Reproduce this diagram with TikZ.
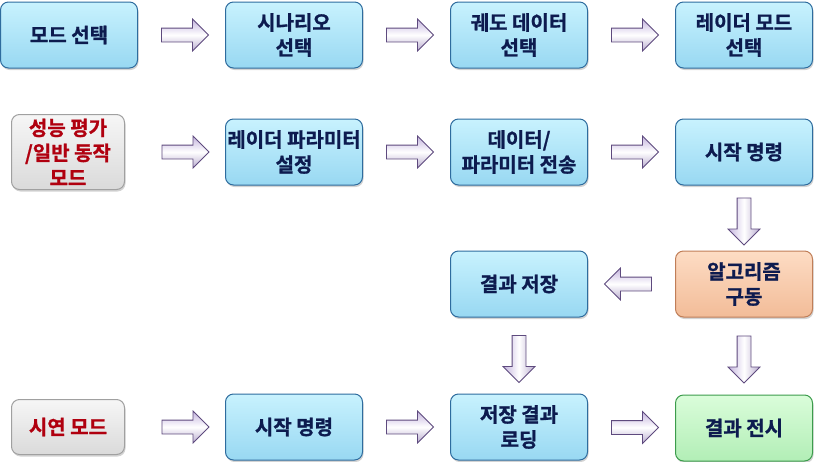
\documentclass[tikz,border=0pt]{standalone}
\usepackage{fontspec}
\newfontfamily\krfont{Noto Sans CJK KR Bold}[FakeBold=1]
\usetikzlibrary{positioning, shapes.arrows, shadows}

\definecolor{bluetop}{HTML}{C8F2FE}
\definecolor{bluebot}{HTML}{98D8F2}
\definecolor{blueline}{HTML}{2E6C9E}
\definecolor{navytext}{HTML}{0D1B4F}
\definecolor{graytop}{HTML}{F6F6F6}
\definecolor{graybot}{HTML}{DADADA}
\definecolor{grayline}{HTML}{A0A0A0}
\definecolor{redtext}{HTML}{B0000F}
\definecolor{orangetop}{HTML}{FDDCC4}
\definecolor{orangebot}{HTML}{F2BC98}
\definecolor{orangeline}{HTML}{C07E58}
\definecolor{greentop}{HTML}{DAFDDA}
\definecolor{greenbot}{HTML}{B2EEB6}
\definecolor{greenline}{HTML}{3C9C4C}
\definecolor{arrline}{HTML}{5E4A7E}
\definecolor{lavender}{HTML}{C4B4DE}

\begin{document}
\begin{tikzpicture}[x=1pt,y=1pt,node distance=50pt and 87pt,font=\krfont\fontsize{20}{25}\selectfont]
        \tikzstyle{box}=[rectangle, rounded corners=8pt, draw=blueline, line width=1pt,
            top color=bluetop, bottom color=bluebot, text=navytext, align=center,
            minimum width=137pt, minimum height=66pt, inner sep=0pt,
            drop shadow={shadow xshift=1pt, shadow yshift=-2pt, opacity=0.35}]
        \tikzstyle{modebox}=[box, draw=grayline, top color=graytop, bottom color=graybot, text=redtext, minimum width=113pt]
        \tikzstyle{algbox}=[box, draw=orangeline, top color=orangetop, bottom color=orangebot]
        \tikzstyle{showbox}=[box, draw=greenline, top color=greentop, bottom color=greenbot]
        \tikzstyle{blockarrow}=[single arrow, draw=arrline, line width=0.8pt, minimum height=47pt,
            inner sep=6.5pt, single arrow head extend=9pt]
        \tikzstyle{harrow}=[blockarrow, top color=lavender, bottom color=lavender!85!gray, middle color=white]
        \tikzstyle{larrow}=[harrow, shape border rotate=180]
        \tikzstyle{darrow}=[blockarrow, shape border rotate=270, left color=lavender, right color=lavender!85!gray, middle color=white]

        \useasboundingbox (0,0) rectangle (814,-461);

        \node[box]     (A1) at (69,-35)       {모드 선택};
        \node[box]     (A2) [right=of A1]     {시나리오\\선택};
        \node[box]     (A3) [right=of A2]     {궤도 데이터\\선택};
        \node[box]     (A4) [right=of A3]     {레이더 모드\\선택};

        \node[box]     (B2) [below=of A2]     {레이더 파라미터\\설정};
        \node[modebox, minimum height=75pt] (B1) [left=100pt of B2] {성능 평가\\/일반 동작\\모드};
        \node[box]     (B3) [right=of B2]     {데이터/\\파라미터 전송};
        \node[box]     (B4) [right=of B3]     {시작 명령};

        \node[box]     (C3) [below=65pt of B3] {결과 저장};
        \node[algbox]  (C4) [below=65pt of B4] {알고리즘\\구동};

        \node[box]     (D3) [below=76pt of C3] {저장 결과\\로딩};
        \node[showbox] (D4) [below=77pt of C4] {결과 전시};
        \node[box]     (D2) [left=of D3]       {시작 명령};
        \node[modebox, minimum height=55pt] (D1) [left=100pt of D2] {시연 모드};

        \foreach \a/\b in {A1/A2, A2/A3, A3/A4, B2/B3, B3/B4, D2/D3, D3/D4}
            \path (\a.east) -- (\b.west) node[midway, harrow] {};
        \foreach \a/\b in {B1/B2, D1/D2}
            \path (\a.east) -- (\b.west) node[midway, harrow, xshift=7pt] {};
        \foreach \a/\b in {B4/C4, C4/D4, C3/D3}
            \path (\a.south) -- (\b.north) node[midway, darrow] {};
        \path (C4.west) -- (C3.east) node[midway, larrow] {};
\end{tikzpicture}
\end{document}
